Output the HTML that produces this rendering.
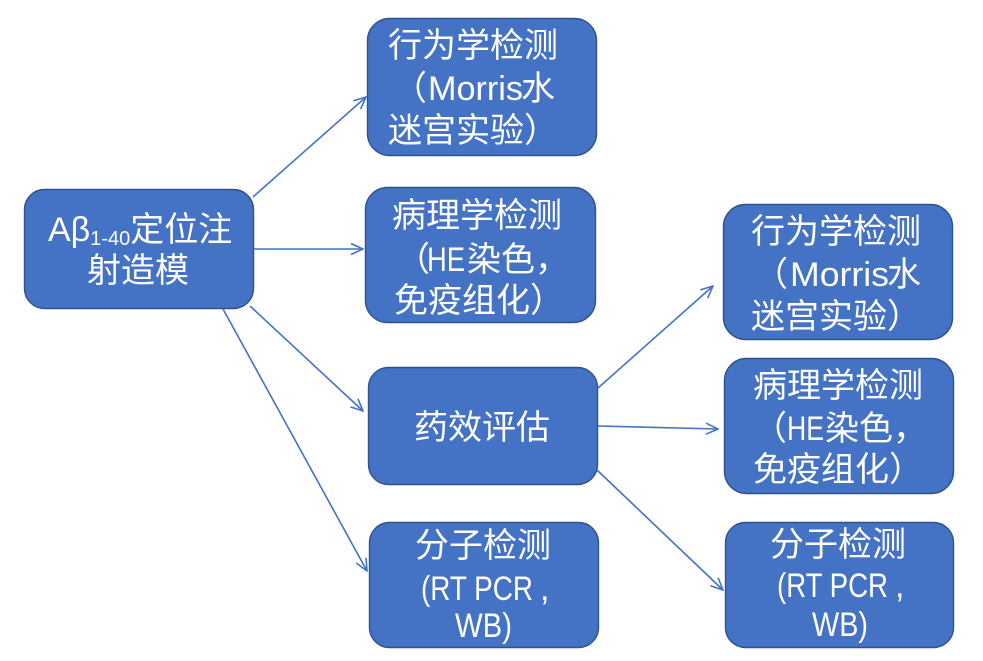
<!DOCTYPE html>
<html><head><meta charset="utf-8">
<style>
html,body{margin:0;padding:0;background:#fff;}
svg{display:block;}
text{font-family:"Liberation Sans","Noto Sans CJK SC",sans-serif;fill:#fff;font-size:34px;}
</style></head>
<body>
<svg width="983" height="661" viewBox="0 0 983 661" xmlns="http://www.w3.org/2000/svg">
<defs>
<marker id="a" viewBox="0 0 14 14" refX="13" refY="7" markerWidth="14" markerHeight="14" markerUnits="userSpaceOnUse" orient="auto">
<path d="M1,1.5 L13,7 L1,12.5" fill="none" stroke="#4472C4" stroke-width="1.6"/>
</marker>
</defs>
<g fill="#4472C4" stroke="#2F528F" stroke-width="1.4">
<rect x="24.5" y="189.5" width="229" height="119" rx="20"/>
<rect x="367.5" y="18.5" width="229" height="137" rx="22"/>
<rect x="365.5" y="187.5" width="230" height="135" rx="22"/>
<rect x="368.5" y="367.5" width="229" height="117" rx="20"/>
<rect x="369.5" y="522.5" width="229" height="125" rx="20"/>
<rect x="723.5" y="204.5" width="229" height="135" rx="22"/>
<rect x="724.5" y="358.5" width="229" height="135" rx="22"/>
<rect x="725.5" y="522.5" width="228" height="125" rx="20"/>
</g>
<g stroke="#4472C4" stroke-width="1.6" fill="none" marker-end="url(#a)">
<path d="M253,197 L366,97"/>
<path d="M254,249 L363,249"/>
<path d="M250,306 L363,411"/>
<path d="M223,309 L367,571"/>
<path d="M598,388 L713,286"/>
<path d="M598,426 L718,429"/>
<path d="M597,470 L723,590"/>
</g>
<!-- left box -->
<text x="48" y="241">Aβ<tspan font-size="20" dy="4">1-40</tspan><tspan dy="-4">定位注</tspan></text>
<text x="87" y="282">射造模</text>
<!-- top box -->
<text x="388" y="57">行为学检测</text>
<text x="393" y="100">（</text>
<text x="428" y="100" textLength="95" lengthAdjust="spacingAndGlyphs">Morris</text>
<text x="521" y="100">水</text>
<text x="388" y="142">迷宫实验）</text>
<!-- box 2 -->
<text x="392" y="227">病理学检测</text>
<text x="396" y="271">（</text>
<text x="427" y="271" font-size="32" textLength="38" lengthAdjust="spacingAndGlyphs">HE</text>
<text x="467" y="271">染色，</text>
<text x="394" y="312">免疫组化）</text>
<!-- box 3 -->
<text x="414" y="439">药效评估</text>
<!-- box 4 -->
<text x="415" y="557">分子检测</text>
<text x="421" y="600" font-size="32" textLength="112" lengthAdjust="spacingAndGlyphs">(RT PCR</text>
<text x="540" y="600" font-size="32">,</text>
<text x="455" y="637" font-size="32" textLength="57" lengthAdjust="spacingAndGlyphs">WB)</text>
<!-- right box 1 -->
<text x="751" y="243">行为学检测</text>
<text x="754" y="286">（</text>
<text x="790" y="286" textLength="99" lengthAdjust="spacingAndGlyphs">Morris</text>
<text x="887" y="286">水</text>
<text x="751" y="328">迷宫实验）</text>
<!-- right box 2 -->
<text x="753" y="397">病理学检测</text>
<text x="753" y="440">（</text>
<text x="787" y="440" font-size="32" textLength="37" lengthAdjust="spacingAndGlyphs">HE</text>
<text x="825" y="440">染色，</text>
<text x="753" y="481">免疫组化）</text>
<!-- right box 3 -->
<text x="770" y="556">分子检测</text>
<text x="777" y="597" font-size="32" textLength="111" lengthAdjust="spacingAndGlyphs">(RT PCR</text>
<text x="895" y="597" font-size="32">,</text>
<text x="812" y="636" font-size="32" textLength="56" lengthAdjust="spacingAndGlyphs">WB)</text>
</svg>
</body></html>
